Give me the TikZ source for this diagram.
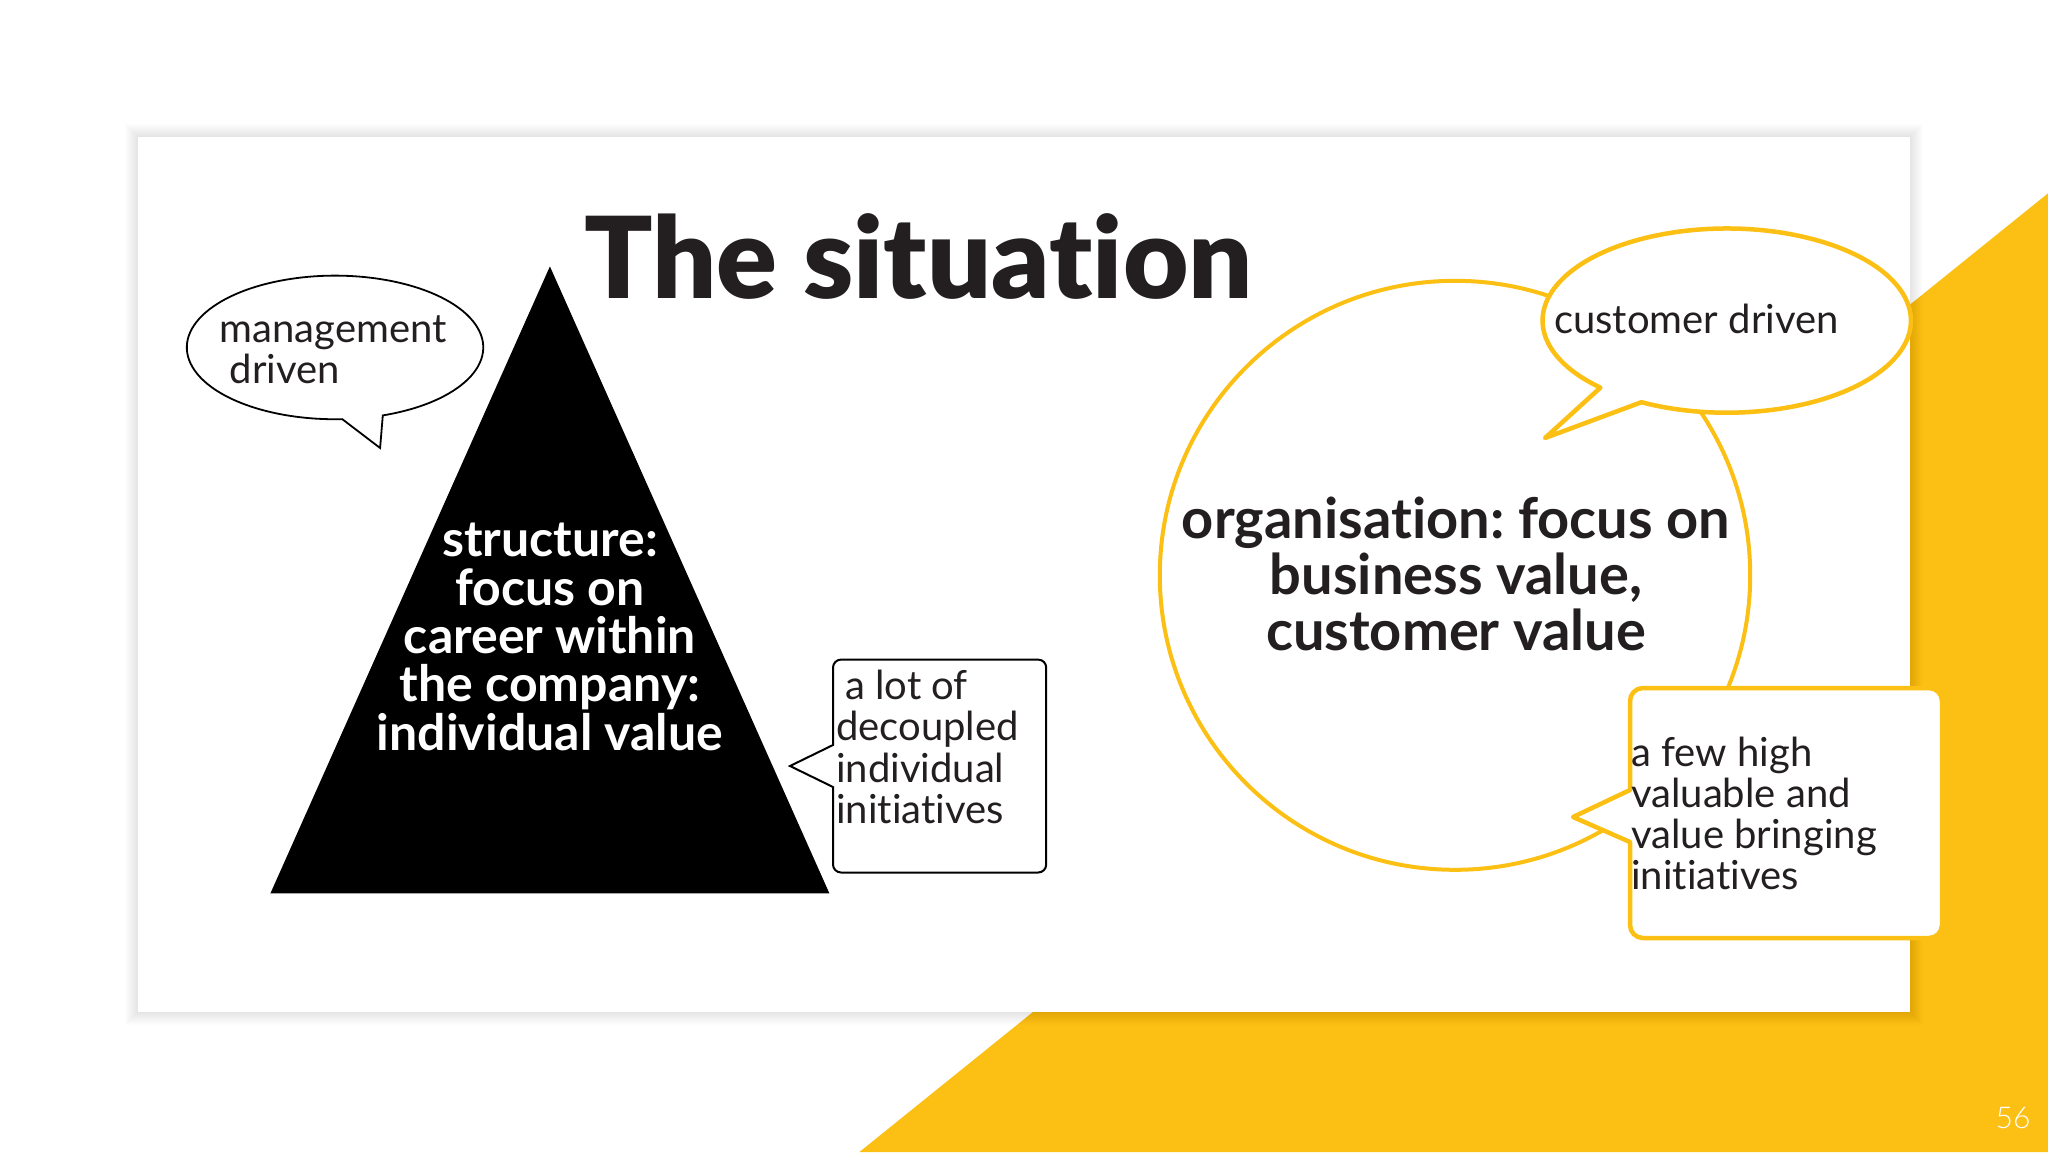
\documentclass[tikz,border=0pt]{standalone}
\usepackage{fontspec}
\setmainfont{Lato}[Ligatures={NoCommon}]
\newfontfamily\titlefont{Lato Black}[Ligatures={NoCommon}]
\newfontfamily\lightfont{Lato Light}
\definecolor{ylw}{RGB}{252,192,20}
\definecolor{ink}{RGB}{35,31,32}
\frenchspacing
\begin{document}
\begin{tikzpicture}[x=1pt,y=1pt,
  yline/.style={draw=ylw, line width=4.5pt, fill=white, line join=round},
  kline/.style={draw=black, line width=1.8pt, fill=white, line join=miter},
  body/.style={font=\fontsize{40}{40.5}\selectfont, text=ink, inner sep=0pt, align=left},
  boldtxt/.style={font=\bfseries\fontsize{56}{56.1}\selectfont, inner sep=0pt, align=center}]
\useasboundingbox (0,0) rectangle (2048,-1152);
\fill[white] (0,0) rectangle (2048,-1152);
% yellow corner
\fill[ylw] (859.4,-1152) -- (2048,-193.3) -- (2048,-1152) -- cycle;
% panel shadow
\foreach \w in {2,4,...,26}{
  \draw[black, opacity=0.007, line width=\w pt] (138,-137) rectangle (1910,-1012);
}
\fill[white] (138,-137) rectangle (1910,-1012);
% title
\node[anchor=base west, font=\titlefont\fontsize{113}{113}\selectfont, text=ink, inner sep=0pt] (title) at (584,-298) {The situation};
% management bubble
\draw[kline] (382.8,-415.4) arc[start angle=-71.2, end angle=272.8, x radius=148.2pt, y radius=71.8pt] -- (380.1,-448) -- cycle;
\node[body, anchor=west] (mgmt) at (219.4,-349.5) {management\\\hspace*{10pt}driven};
% triangle
\fill[black] (549.9,-266.4) -- (829.4,-893.4) -- (270.4,-893.4) -- cycle;
\node[boldtxt, text=white, font=\bfseries\fontsize{50}{48.3}\selectfont] (struct) at (550,-637) {structure:\\focus on\\career within\\the company:\\individual value};
% a lot of box
\draw[kline, line width=2pt] (833,-745) -- (790,-766) -- (833,-787) -- (833,-864.5) arc[start angle=180,end angle=270,radius=8pt] -- (1038.2,-872.5) arc[start angle=270,end angle=360,radius=8pt] -- (1046.2,-667.6) arc[start angle=0,end angle=90,radius=8pt] -- (841,-659.6) arc[start angle=90,end angle=180,radius=8pt] -- cycle;
\node[body, anchor=west, font=\fontsize{40}{41.4}\selectfont] (lot) at (836,-747) {\hspace*{9pt}a lot of\\decoupled\\individual\\initiatives};
% big circle
\draw[yline, line width=4pt] (1455,-575.3) ellipse[x radius=295.2pt, y radius=294.5pt];
\node[boldtxt, text=ink] (org) at (1456,-574) {organisation: focus on\\business value,\\customer value};
% customer bubble
\draw[yline] (1641.4,-402.2) arc[start angle=-117.6, end angle=226.7, x radius=184.2pt, y radius=92.1pt] -- (1545,-438) -- cycle;
\node[body, anchor=base west] (cust) at (1554,-333) {customer driven};
% a few high box
\draw[yline] (1630,-790) -- (1573,-817) -- (1630,-842) -- (1630,-925) arc[start angle=180,end angle=270,radius=13pt] -- (1929,-938) arc[start angle=270,end angle=360,radius=13pt] -- (1942,-701) arc[start angle=0,end angle=90,radius=13pt] -- (1643,-688) arc[start angle=90,end angle=180,radius=13pt] -- cycle;
\node[body, anchor=west, font=\fontsize{40}{41}\selectfont] (few) at (1631,-813.3) {a few high\\valuable and\\value bringing\\initiatives};
% slide number
\node[anchor=base, text=white, font=\lightfont\fontsize{30}{30}\selectfont, inner sep=0pt] (num) at (2013,-1128) {56};
\end{tikzpicture}
\end{document}
